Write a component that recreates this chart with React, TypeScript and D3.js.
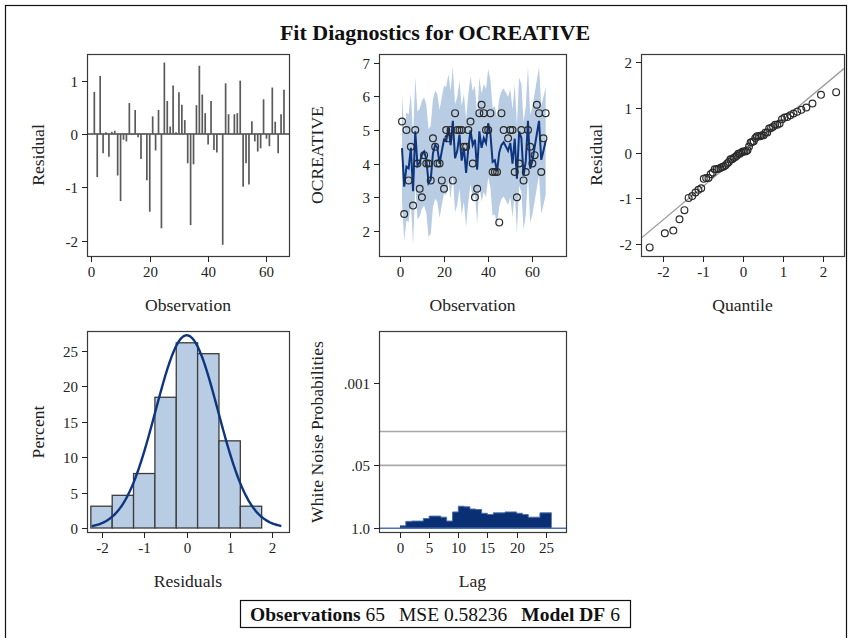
import React from "react";
import * as d3 from "d3";

// ---------- data ----------
const observationIndex: number[] = d3.range(1, 67);
const residuals: (number | null)[] = [
  0.79, -0.81, 1.09, -0.36, 0.03, -0.43, 0.04, 0.06, -0.78, -1.26,
  -0.11, -0.14, 0.58, -0.02, 0.45, -0.06, -0.47, 0.01, -0.87, -1.46,
  0.33, -0.31, 0.45, -1.77, 1.34, 0.62, 0.14, 0.91, 0.03, 0.78,
  0.55, 0.26, -0.55, -1.71, -0.57, 0.54, 1.28, 0.74, 0.39, -0.2,
  0.62, -0.3, -0.35, -0.02, -2.08, 0.95, 0.37, null, 0.37, 0.39,
  1.0, -0.99, -0.55, -0.95, 0.24, -0.14, -0.33, -0.27, 0.65, -0.09,
  -0.23, 0.87, 0.23, -0.36, 0.37, 0.83,
];
const observedOCREATIVE: (number | null)[] = [
  5.25, 2.5, 5.0, 3.5, 4.5, 2.75, 5.0, 4.0, 3.25, 3.0,
  4.25, 4.0, 4.0, 3.5, 4.75, 4.5, 4.0, 4.0, 3.5, 3.25,
  5.0, 4.75, 5.0, 3.5, 5.5, 5.0, 5.0, 5.0, 4.5, 4.5,
  5.0, 5.25, 4.0, 3.0, 3.25, 5.5, 5.75, 5.5, 5.0, 5.0,
  5.5, 3.75, 3.75, 3.75, 2.25, 5.5, 5.0, null, 4.75, 5.0,
  5.0, 3.75, 3.0, 4.0, 5.0, 3.5, 3.75, 5.0, 4.5, 4.0,
  4.25, 5.75, 5.5, 3.75, 4.75, 5.5,
];
const whiteNoiseLags: number[] = [
  0, 1, 2, 3, 4, 5, 6, 7, 8, 9, 10, 11, 12, 13, 14, 15, 16, 17, 18, 19, 20, 21, 22, 23, 24, 25,
];
const whiteNoiseProb: number[] = [
  0.89, 0.72, 0.71, 0.71, 0.63, 0.56, 0.56, 0.59, 0.71, 0.46, 0.35, 0.36, 0.4,
  0.41, 0.49, 0.52, 0.48, 0.48, 0.46, 0.46, 0.49, 0.52, 0.59, 0.59, 0.48, 0.48,
];
const histEdges: number[] = [-2.25, -1.75, -1.25, -0.75, -0.25, 0.25, 0.75, 1.25, 1.75];

const residualTicks = [-2, -1, 0, 1];
const obsTicks = [0, 20, 40, 60];
const ocreativeTicks = [2, 3, 4, 5, 6, 7];
const qqTicks = [-2, -1, 0, 1, 2];
const percentTicks = [0, 5, 10, 15, 20, 25];
const histXTicks = [-2, -1, 0, 1, 2];
const lagTicks = [0, 5, 10, 15, 20, 25];
const wnTicks = [0.001, 0.05, 1.0];
const wnTickLabels = [".001", ".05", "1.0"];
const wnRefLines = [0.01, 0.05];

const nObs = 65;
const mse = 0.58236;
const modelDF = 6;
const titleText = "Fit Diagnostics for OCREATIVE";

// ---------- helpers ----------
const FONT = "'Liberation Serif', 'Times New Roman', serif";
const FRAME = "#3a3a3a";
const TICK_FS = 15;
const TITLE_FS = 17.6;

function normInv(p: number): number {
  const a = [-39.69683028665376, 220.9460984245205, -275.9285104469687, 138.357751867269, -30.66479806614716, 2.506628277459239];
  const b = [-54.47609879822406, 161.5858368580409, -155.6989798598866, 66.80131188771972, -13.28068155288572];
  const c = [-0.007784894002430293, -0.3223964580411365, -2.400758277161838, -2.549732539343734, 4.374664141464968, 2.938163982698783];
  const d = [0.007784695709041462, 0.3224671290700398, 2.445134137142996, 3.754408661907416];
  const pl = 0.02425;
  if (p < pl) {
    const q = Math.sqrt(-2 * Math.log(p));
    return (((((c[0] * q + c[1]) * q + c[2]) * q + c[3]) * q + c[4]) * q + c[5]) / ((((d[0] * q + d[1]) * q + d[2]) * q + d[3]) * q + 1);
  }
  if (p <= 1 - pl) {
    const q = p - 0.5;
    const r = q * q;
    return ((((((a[0] * r + a[1]) * r + a[2]) * r + a[3]) * r + a[4]) * r + a[5]) * q) / (((((b[0] * r + b[1]) * r + b[2]) * r + b[3]) * r + b[4]) * r + 1);
  }
  const q = Math.sqrt(-2 * Math.log(1 - p));
  return -(((((c[0] * q + c[1]) * q + c[2]) * q + c[3]) * q + c[4]) * q + c[5]) / ((((d[0] * q + d[1]) * q + d[2]) * q + d[3]) * q + 1);
}

type Box = { x0: number; x1: number; y0: number; y1: number };

function Frame({ b }: { b: Box }) {
  return (
    <rect x={b.x0 + 0.5} y={b.y0 + 0.5} width={b.x1 - b.x0} height={b.y1 - b.y0} fill="none" stroke={FRAME} strokeWidth={1.2} />
  );
}

function XAxis({ b, scale, ticks, labels }: { b: Box; scale: (v: number) => number; ticks: number[]; labels?: string[] }) {
  return (
    <g>
      {ticks.map((t, i) => {
        const x = Math.round(scale(t)) + 0.5;
        return (
          <g key={i}>
            <line x1={x} x2={x} y1={b.y1 + 0.5} y2={b.y1 + 6} stroke="#222" strokeWidth={1} />
            <text x={x} y={b.y1 + 21} textAnchor="middle" fontSize={TICK_FS} fontFamily={FONT} fill="#222">
              {labels ? labels[i] : String(t)}
            </text>
          </g>
        );
      })}
    </g>
  );
}

function YAxis({ b, scale, ticks, labels }: { b: Box; scale: (v: number) => number; ticks: number[]; labels?: string[] }) {
  return (
    <g>
      {ticks.map((t, i) => {
        const y = Math.round(scale(t)) + 0.5;
        return (
          <g key={i}>
            <line x1={b.x0 - 5} x2={b.x0 + 0.5} y1={y} y2={y} stroke="#222" strokeWidth={1} />
            <text x={b.x0 - 9} y={y + 5} textAnchor="end" fontSize={TICK_FS} fontFamily={FONT} fill="#222">
              {labels ? labels[i] : String(t)}
            </text>
          </g>
        );
      })}
    </g>
  );
}

function XTitle({ b, text }: { b: Box; text: string }) {
  return (
    <text x={(b.x0 + b.x1) / 2} y={b.y1 + 55} textAnchor="middle" fontSize={TITLE_FS} fontFamily={FONT} fill="#222">
      {text}
    </text>
  );
}
function YTitle({ x, cy, text }: { x: number; cy: number; text: string }) {
  return (
    <text transform={`translate(${x},${cy}) rotate(-90)`} textAnchor="middle" dominantBaseline="central" fontSize={TITLE_FS} fontFamily={FONT} fill="#222">
      {text}
    </text>
  );
}

export default function App() {
  const rows = observationIndex
    .map((o, i) => ({ obs: o, res: residuals[i], y: observedOCREATIVE[i] }))
    .filter((r) => r.res !== null && r.y !== null) as { obs: number; res: number; y: number }[];
  const fitted = rows.map((r) => ({ ...r, pred: r.y - r.res }));
  const halfWidth = 2.001 * Math.sqrt(mse * (1 + (modelDF + 1) / nObs));
  const resVals = rows.map((r) => r.res);
  const resMean = d3.mean(resVals) as number;
  const resSD = d3.deviation(resVals) as number;

  // panels
  const P1: Box = { x0: 87, x1: 289, y0: 54, y1: 256 };
  const P2: Box = { x0: 379, x1: 566, y0: 54, y1: 256 };
  const P3: Box = { x0: 641, x1: 844, y0: 54, y1: 256 };
  const P4: Box = { x0: 87, x1: 289, y0: 331, y1: 532 };
  const P5: Box = { x0: 379, x1: 566, y0: 331, y1: 532 };

  // panel 1
  const x1s = d3.scaleLinear().domain([-1.51, 67.72]).range([P1.x0, P1.x1]);
  const y1s = d3.scaleLinear().domain([-2.29, 1.5]).range([P1.y1, P1.y0]);

  // panel 2
  const x2s = d3.scaleLinear().domain([-9.41, 75.2]).range([P2.x0, P2.x1]);
  const y2s = d3.scaleLinear().domain([1.25, 7.26]).range([P2.y1, P2.y0]);
  const band = d3
    .area<any>()
    .x((d) => x2s(d.obs))
    .y0((d) => y2s(d.pred - halfWidth))
    .y1((d) => y2s(d.pred + halfWidth));
  const predLine = d3
    .line<any>()
    .x((d) => x2s(d.obs))
    .y((d) => y2s(d.pred));

  // panel 3
  const x3s = d3.scaleLinear().domain([-2.56, 2.54]).range([P3.x0, P3.x1]);
  const y3s = d3.scaleLinear().domain([-2.27, 2.18]).range([P3.y1, P3.y0]);
  const sorted = [...resVals].sort((a, b) => a - b);
  const nQ = sorted.length;
  const qq = sorted.map((v, i) => ({ q: normInv((i + 1 - 0.375) / (nQ + 0.25)), v }));
  const qx0 = x3s.domain()[0];
  const qx1 = x3s.domain()[1];

  // panel 4
  const x4s = d3.scaleLinear().domain([-2.34, 2.39]).range([P4.x0, P4.x1]);
  const y4s = d3.scaleLinear().domain([-0.565, 27.82]).range([P4.y1, P4.y0]);
  const bins = histEdges.slice(0, -1).map((e, i) => {
    const hi = histEdges[i + 1];
    const cnt = resVals.filter((v) => v >= e && v < hi).length;
    return { lo: e, hi, pct: (cnt / resVals.length) * 100 };
  });
  const bw = histEdges[1] - histEdges[0];
  const curvePts = d3.range(-2.23, 2.215, 0.02).map((x) => ({
    x,
    p: (bw * 100 * Math.exp(-0.5 * ((x - resMean) / resSD) ** 2)) / (resSD * Math.sqrt(2 * Math.PI)),
  }));
  const normLine = d3
    .line<any>()
    .x((d) => x4s(d.x))
    .y((d) => y4s(d.p))
    .curve(d3.curveBasis);

  // panel 5
  const x5s = d3.scaleLinear().domain([-3.6, 28.47]).range([P5.x0, P5.x1]);
  const y5s = d3.scaleLog().domain([Math.pow(10, 0.077), Math.pow(10, -4.08)]).range([P5.y1, P5.y0]);
  const stepPts: { x: number; p: number }[] = [];
  whiteNoiseLags.forEach((l, i) => {
    stepPts.push({ x: l, p: whiteNoiseProb[i] });
    stepPts.push({ x: l + 1, p: whiteNoiseProb[i] });
  });
  const wnArea = d3
    .area<any>()
    .x((d) => x5s(d.x))
    .y0(y5s(1))
    .y1((d) => y5s(d.p));
  const wnLine = d3
    .line<any>()
    .x((d) => x5s(d.x))
    .y((d) => y5s(d.p));

  return (
    <div style={{ position: "absolute", left: 0, top: 0 }}>
      <svg width={850} height={638} style={{ display: "block", background: "#fff" }}>
        <defs>
          <clipPath id="clipP3">
            <rect x={P3.x0} y={P3.y0} width={P3.x1 - P3.x0} height={P3.y1 - P3.y0} />
          </clipPath>
        </defs>
        <rect x={5.5} y={5.5} width={841} height={650} fill="none" stroke="#111" strokeWidth={1.2} />
        <text x={435} y={40} textAnchor="middle" fontSize={22} fontWeight="bold" fontFamily={FONT} fill="#111">
          {titleText}
        </text>

        {/* Panel 1: residual by observation */}
        <g>
          <line x1={P1.x0} x2={P1.x1} y1={y1s(0)} y2={y1s(0)} stroke="#444" strokeWidth={1.4} />
          {rows.map((r) => (
            <line key={r.obs} x1={x1s(r.obs)} x2={x1s(r.obs)} y1={y1s(0)} y2={y1s(r.res)} stroke="#5a5a5a" strokeWidth={1.7} />
          ))}
          <Frame b={P1} />
          <XAxis b={P1} scale={x1s} ticks={obsTicks} />
          <YAxis b={P1} scale={y1s} ticks={residualTicks} />
          <XTitle b={P1} text="Observation" />
          <YTitle x={38} cy={155} text="Residual" />
        </g>

        {/* Panel 2: observed with prediction */}
        <g>
          <path d={band(fitted) || ""} fill="#b8cce4" stroke="none" />
          <path d={predLine(fitted) || ""} fill="none" stroke="#0d3580" strokeWidth={2} />
          {rows.map((r) => (
            <circle key={r.obs} cx={x2s(r.obs)} cy={y2s(r.y)} r={3.4} fill="none" stroke="#2a2a2a" strokeWidth={1.2} />
          ))}
          <Frame b={P2} />
          <XAxis b={P2} scale={x2s} ticks={obsTicks} />
          <YAxis b={P2} scale={y2s} ticks={ocreativeTicks} />
          <XTitle b={P2} text="Observation" />
          <YTitle x={317} cy={155} text="OCREATIVE" />
        </g>

        {/* Panel 3: Q-Q */}
        <g>
          <line
            clipPath="url(#clipP3)"
            x1={x3s(qx0)}
            x2={x3s(qx1)}
            y1={y3s(resMean + resSD * qx0)}
            y2={y3s(resMean + resSD * qx1)}
            stroke="#9a9a9a"
            strokeWidth={1.3}
          />
          {qq.map((d, i) => (
            <circle key={i} cx={x3s(d.q)} cy={y3s(d.v)} r={3.4} fill="none" stroke="#2a2a2a" strokeWidth={1.2} />
          ))}
          <Frame b={P3} />
          <XAxis b={P3} scale={x3s} ticks={qqTicks} />
          <YAxis b={P3} scale={y3s} ticks={qqTicks} />
          <XTitle b={P3} text="Quantile" />
          <YTitle x={596} cy={155} text="Residual" />
        </g>

        {/* Panel 4: histogram */}
        <g>
          {bins.map((b, i) => (
            <rect
              key={i}
              x={x4s(b.lo)}
              y={y4s(b.pct)}
              width={x4s(b.hi) - x4s(b.lo)}
              height={y4s(0) - y4s(b.pct)}
              fill="#b8cce4"
              stroke="#3c3c3c"
              strokeWidth={1.3}
            />
          ))}
          <path d={normLine(curvePts) || ""} fill="none" stroke="#0d3580" strokeWidth={2.4} />
          <Frame b={P4} />
          <XAxis b={P4} scale={x4s} ticks={histXTicks} />
          <YAxis b={P4} scale={y4s} ticks={percentTicks} />
          <XTitle b={P4} text="Residuals" />
          <YTitle x={38} cy={432} text="Percent" />
        </g>

        {/* Panel 5: white noise */}
        <g>
          {wnRefLines.map((p, i) => (
            <line key={i} x1={P5.x0} x2={P5.x1} y1={y5s(p)} y2={y5s(p)} stroke="#a8a8a8" strokeWidth={1.6} />
          ))}
          <path d={wnArea(stepPts) || ""} fill="#0a2f72" stroke="none" />
          <path d={wnLine(stepPts) || ""} fill="none" stroke="#4a6fae" strokeWidth={1} />
          <line x1={P5.x0} x2={P5.x1} y1={y5s(1)} y2={y5s(1)} stroke="#4a72b8" strokeWidth={1.4} />
          <Frame b={P5} />
          <XAxis b={P5} scale={x5s} ticks={lagTicks} />
          <YAxis b={P5} scale={(v) => y5s(v)} ticks={wnTicks} labels={wnTickLabels} />
          <XTitle b={P5} text="Lag" />
          <YTitle x={317} cy={432} text="White Noise Probabilities" />
        </g>

        {/* Footer */}
        <rect x={240.5} y={600.5} width={390} height={27} fill="#fff" stroke="#111" strokeWidth={1.2} />
        <text x={435} y={621} textAnchor="middle" fontSize={19.5} fontFamily={FONT} fill="#111">
          <tspan fontWeight="bold">Observations</tspan>
          <tspan> {nObs}</tspan>
          <tspan dx={14}>MSE {mse}</tspan>
          <tspan dx={14} fontWeight="bold">Model DF</tspan>
          <tspan> {modelDF}</tspan>
        </text>
      </svg>
    </div>
  );
}
